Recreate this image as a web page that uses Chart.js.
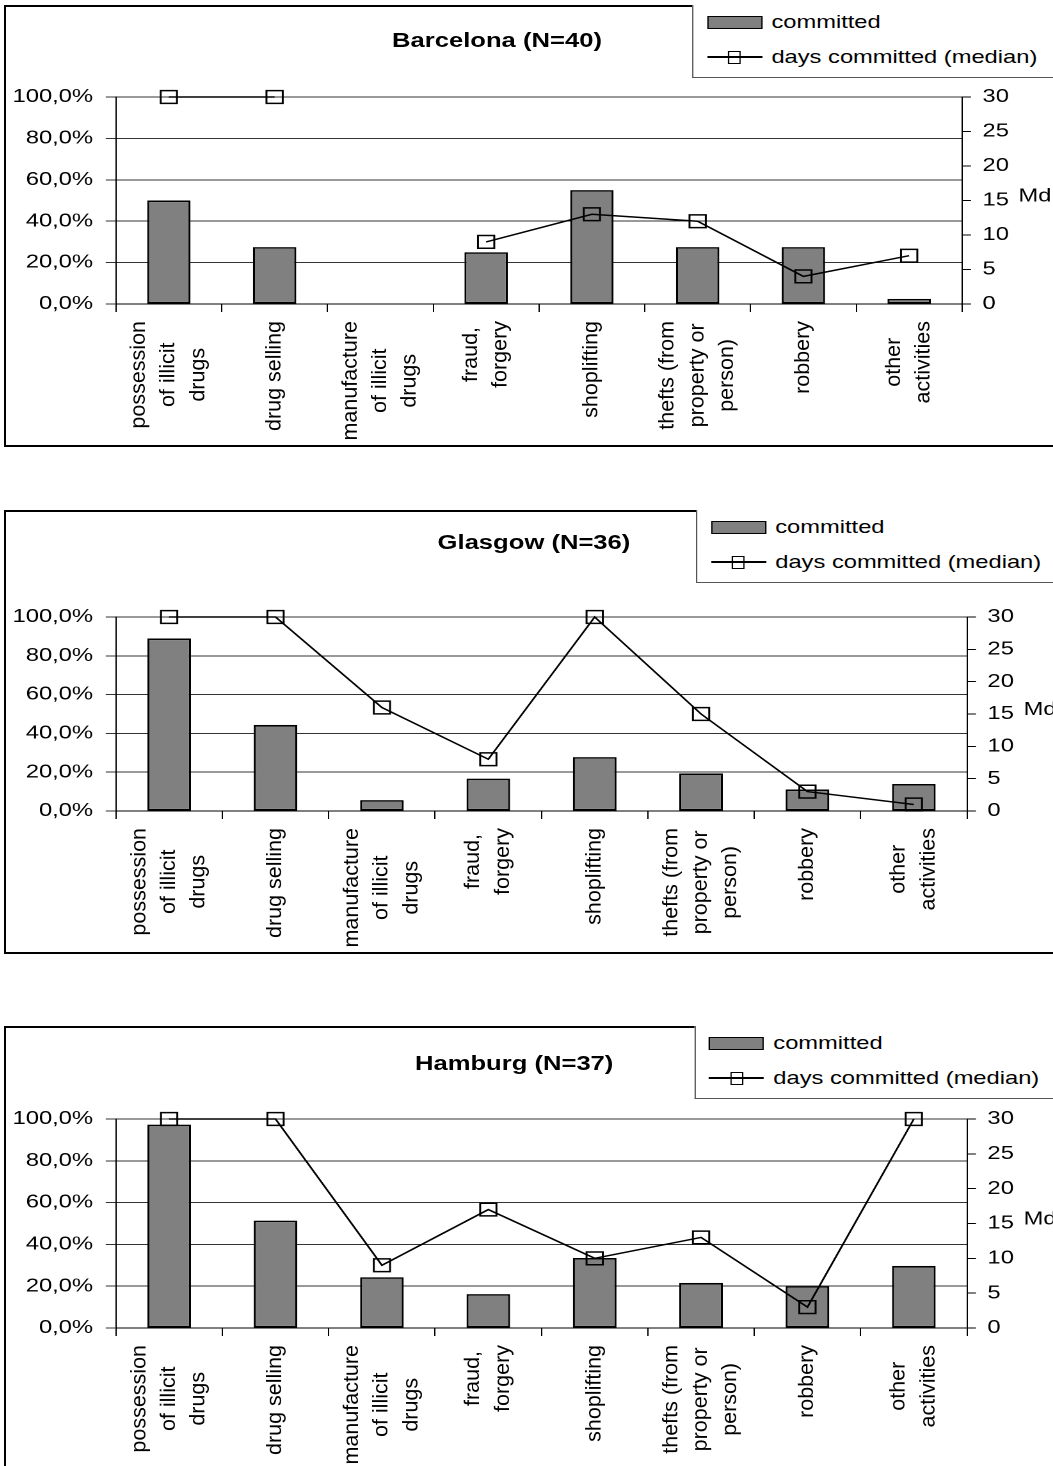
<!DOCTYPE html>
<html>
<head>
<meta charset="utf-8">
<script src="https://cdn.jsdelivr.net/npm/chart.js@4.4.1/dist/chart.umd.min.js"></script>
<style>
  body { margin: 0; background: #fff; overflow: hidden; width: 1053px; height: 1466px; position: relative;
         font-family: "Liberation Sans", Arial, sans-serif; color: #000; }
  .panel { position: absolute; left: 4px; width: 1080px; border: 2px solid #000; box-sizing: border-box; background: #fff; }
  /* the reference is stretched sideways, so each panel is drawn narrow and widened */
  .stage { position: absolute; left: 0; top: 0; width: 840px; height: 100%; transform: scaleX(1.28); transform-origin: 0 0; }
  .box { position: absolute; left: 0; top: 0; width: 840px; height: 100%; }
  .title { position: absolute; font-weight: bold; font-size: 20px; white-space: nowrap; transform: translate(-50%, -50%); }
  .legend { position: absolute; top: -2px; width: 400px; height: 73px; border: 1px solid #555; border-top: none;
            background: #fff; font-size: 18.5px; box-sizing: border-box; }
  .legend .sw { position: absolute; left: 10.7px; top: 10.5px; width: 43px; height: 13px; background: #808080;
                border: 1.5px solid #000; box-sizing: border-box; }
  .legend .ln { position: absolute; left: 10.7px; top: 51.2px; width: 43px; height: 1.5px; background: #000; }
  .legend .mk { position: absolute; left: 27px; top: 45.5px; width: 10.4px; height: 13px; border: 1.5px solid #000; box-sizing: border-box; }
  .legend .t { position: absolute; left: 61px; line-height: 22px; white-space: nowrap; }
</style>
</head>
<body>

<div class="panel" style="top:5px;height:442px">
  <div class="stage">
    <div class="box"><canvas id="chartBarcelona"></canvas></div>
    <div class="title" style="left:383.6px;top:33px">Barcelona (N=40)</div>
    <div class="legend" style="left:536px">
      <div class="sw"></div><div class="t" style="top:6px">committed</div>
      <div class="ln"></div><div class="mk"></div><div class="t" style="top:41px">days committed (median)</div>
    </div>
  </div>
</div>

<div class="panel" style="top:510px;height:444px">
  <div class="stage">
    <div class="box"><canvas id="chartGlasgow"></canvas></div>
    <div class="title" style="left:412.5px;top:30px">Glasgow (N=36)</div>
    <div class="legend" style="left:539px">
      <div class="sw"></div><div class="t" style="top:6px">committed</div>
      <div class="ln"></div><div class="mk"></div><div class="t" style="top:41px">days committed (median)</div>
    </div>
  </div>
</div>

<div class="panel" style="top:1026px;height:460px">
  <div class="stage">
    <div class="box"><canvas id="chartHamburg"></canvas></div>
    <div class="title" style="left:397px;top:35px">Hamburg (N=37)</div>
    <div class="legend" style="left:537.5px">
      <div class="sw"></div><div class="t" style="top:6px">committed</div>
      <div class="ln"></div><div class="mk"></div><div class="t" style="top:41px">days committed (median)</div>
    </div>
  </div>
</div>

<script>
// categorias (cada linha do rótulo separada)
const categories = [
  ["possession", "of illicit", "drugs"],
  ["drug selling"],
  ["manufacture", "of illicit", "drugs"],
  ["fraud,", "forgery"],
  ["shoplifting"],
  ["thefts (from", "property or", "person)"],
  ["robbery"],
  ["other", "activities"]
];

// % committed
const barcelonaCommitted = [50, 27.5, 0, 25, 55, 27.5, 27.5, 2.5];
const glasgowCommitted   = [88.9, 44.4, 5.6, 16.7, 27.8, 19.4, 11.1, 13.9];
const hamburgCommitted   = [97.3, 51.4, 24.3, 16.2, 33.5, 21.6, 20, 29.7];

// days committed (median)
const barcelonaDays = [30, 30, null, 9, 13, 12, 4, 7];
const glasgowDays   = [30, 30, 16, 8, 30, 15, 3, 1];
const hamburgDays   = [30, 30, 9, 17, 10, 13, 3, 30];

const percentTicks = [0, 20, 40, 60, 80, 100];
const daysTicks = [0, 5, 10, 15, 20, 25, 30];

Chart.defaults.font.family = '"Liberation Sans", Arial, sans-serif';
Chart.defaults.color = '#000';

const STAGE_W = 840;

// rótulos verticais do eixo x, linhas centradas entre si
const rotulosX = {
  id: 'rotulosX',
  afterDraw(chart) {
    const ctx = chart.ctx;
    const xs = chart.scales.x;
    const top = chart.chartArea.bottom + 17;
    ctx.save();
    ctx.fillStyle = '#000';
    ctx.font = '21.5px "Liberation Sans", Arial, sans-serif';
    ctx.textAlign = 'center';
    ctx.textBaseline = 'middle';
    chart.data.labels.forEach((lines, i) => {
      const x = xs.getPixelForValue(i);
      const longest = Math.max(...lines.map(l => ctx.measureText(l).width));
      const mid = top + longest / 2;
      lines.forEach((l, j) => {
        ctx.save();
        ctx.translate(x + (j - (lines.length - 1) / 2) * 23.2, mid);
        ctx.rotate(-Math.PI / 2);
        ctx.scale(1, 0.76);
        ctx.fillText(l, 0, 0);
        ctx.restore();
      });
    });
    // "Md" ao lado do eixo direito
    const y1 = chart.scales.y1;
    ctx.font = '18.5px "Liberation Sans", Arial, sans-serif';
    ctx.textAlign = 'left';
    ctx.fillText('Md', chart.options.mdX, y1.getPixelForValue(15) - 4);
    ctx.restore();
  }
};

function criarGrafico(id, committed, days, area) {
  const ctx = document.getElementById(id).getContext('2d');
  return new Chart(ctx, {
    type: 'bar',
    data: {
      labels: categories,
      datasets: [
        {
          type: 'line',
          label: 'days committed (median)',
          data: days,
          yAxisID: 'y1',
          order: 0,
          borderColor: '#000',
          borderWidth: 1.5,
          pointStyle: 'rect',
          pointRadius: 9,
          pointBorderWidth: 1.5,
          pointBorderColor: '#000',
          pointBackgroundColor: 'rgba(0,0,0,0)',
          spanGaps: false,
          tension: 0,
          clip: false
        },
        {
          type: 'bar',
          label: 'committed',
          data: committed,
          yAxisID: 'y',
          order: 1,
          backgroundColor: '#808080',
          borderColor: '#000',
          borderWidth: 1.6,
          borderSkipped: false,
          categoryPercentage: 1,
          barPercentage: 0.41
        }
      ]
    },
    options: {
      responsive: true,
      maintainAspectRatio: false,
      animation: false,
      devicePixelRatio: 2,
      mdX: area.mdX,
      layout: { padding: { top: area.top, left: 0, right: 0, bottom: 0 } },
      plugins: { legend: { display: false }, tooltip: { enabled: false } },
      scales: {
        x: {
          offset: true,
          ticks: { display: false },
          grid: { display: true, offset: true, drawOnChartArea: false, tickLength: 8, color: '#000' },
          border: { display: true, color: '#000', width: 1 },
          afterFit: s => { s.height = area.height - area.bottom; }
        },
        y: {
          position: 'left',
          min: 0, max: 100,
          afterBuildTicks: s => { s.ticks = percentTicks.map(v => ({ value: v })); },
          ticks: {
            padding: 10,
            font: { size: 18.5 },
            callback: v => v.toFixed(1).replace('.', ',') + '%'
          },
          grid: { color: '#333', tickLength: 8, drawTicks: true },
          border: { display: true, color: '#000', width: 1 },
          afterFit: s => { s.width = area.left; }
        },
        y1: {
          position: 'right',
          min: 0, max: 30,
          afterBuildTicks: s => { s.ticks = daysTicks.map(v => ({ value: v })); },
          ticks: { padding: 9, font: { size: 18.5 } },
          grid: { drawOnChartArea: false, tickLength: 7, color: '#000' },
          border: { display: true, color: '#000', width: 1 },
          afterFit: s => { s.width = STAGE_W - area.right; }
        }
      }
    },
    plugins: [rotulosX]
  });
}

criarGrafico('chartBarcelona', barcelonaCommitted, barcelonaDays,
  { top: 90, bottom: 297, left: 85.9, right: 746.9, height: 438, mdX: 791 });
criarGrafico('chartGlasgow', glasgowCommitted, glasgowDays,
  { top: 105, bottom: 299, left: 85.9, right: 750.8, height: 440, mdX: 795 });
criarGrafico('chartHamburg', hamburgCommitted, hamburgDays,
  { top: 91, bottom: 300, left: 85.9, right: 750.8, height: 456, mdX: 795 });
</script>
</body>
</html>
